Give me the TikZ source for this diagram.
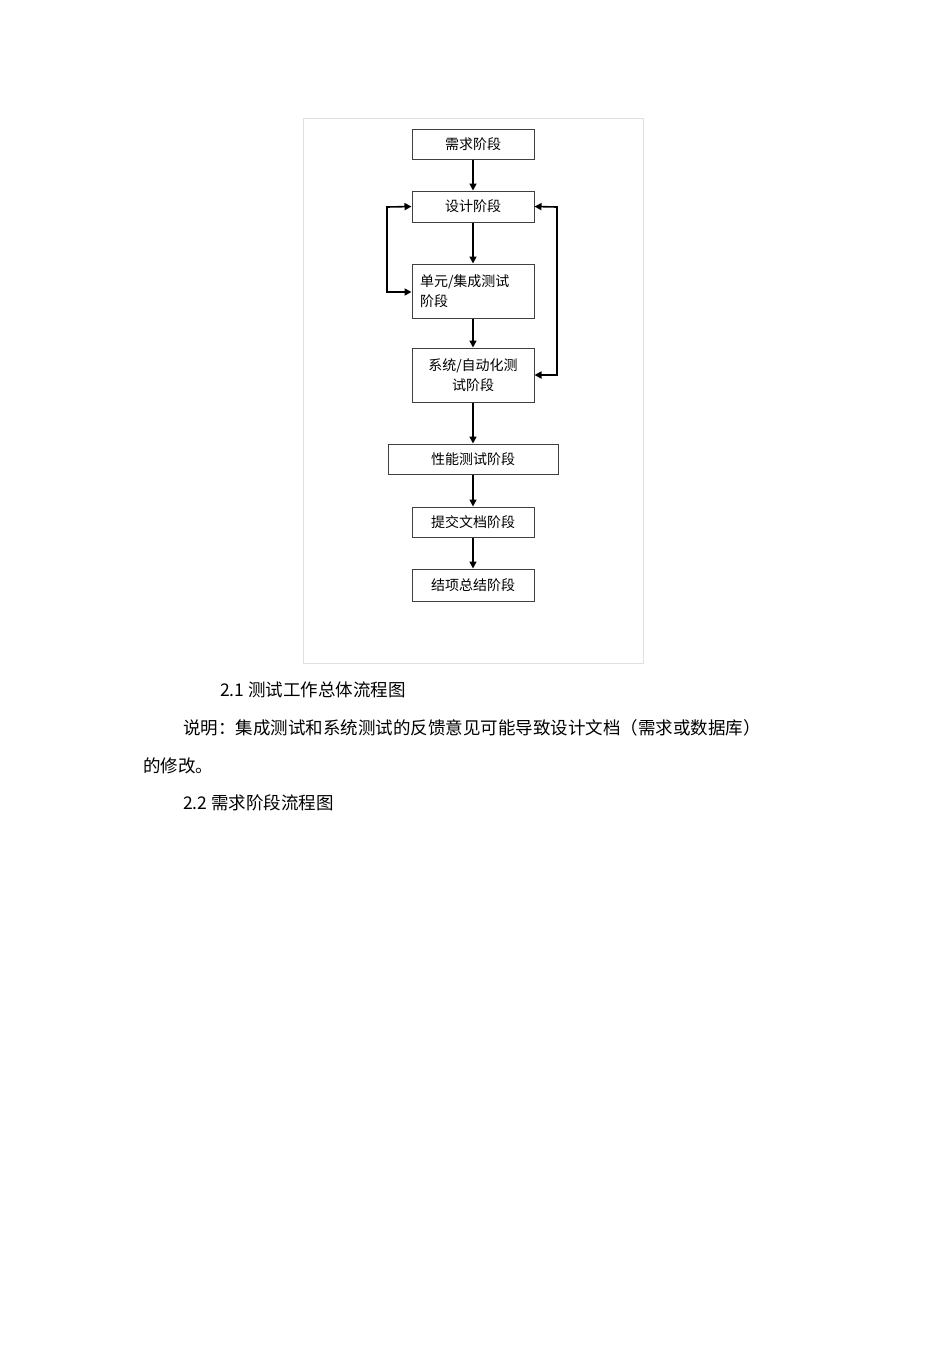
\documentclass[tikz,border=0pt]{standalone}
\usepackage{fontspec}
\setmainfont{Liberation Sans}
\newfontfamily\cjk{Noto Sans CJK SC}
\usetikzlibrary{arrows.meta}
\begin{document}
\begin{tikzpicture}[x=1pt,y=-1pt,
  box/.style={draw=black!75,line width=1pt,inner sep=0pt,font=\cjk\fontsize{14}{20}\selectfont},
  arr/.style={line width=1.6pt,-{Triangle[length=7pt,width=7pt]}},
  txt/.style={anchor=west,inner sep=0pt,font=\cjk\fontsize{17.5}{20}\selectfont}]
\useasboundingbox[fill=white] (0,0) rectangle (950,1345);
\draw[black!12,line width=0.8pt] (303,118) rectangle (643,663);
\node[box,minimum width=122pt,minimum height=30pt] (a) at (473,144) {需求阶段};
\node[box,minimum width=122pt,minimum height=31pt] (b) at (473,206.5) {设计阶段};
\node[box,minimum width=122pt,minimum height=54pt,align=left,text width=106pt] (c) at (473,291) {单元/集成测试\\阶段};
\node[box,minimum width=122pt,minimum height=54pt,align=center] (d) at (473,375) {系统/自动化测\\试阶段};
\node[box,minimum width=170pt,minimum height=30pt] (e) at (473,459) {性能测试阶段};
\node[box,minimum width=122pt,minimum height=30pt] (f) at (473,522) {提交文档阶段};
\node[box,minimum width=122pt,minimum height=32pt] (g) at (473,585) {结项总结阶段};
\draw[arr] (a) -- (b);
\draw[arr] (b) -- (c);
\draw[arr] (c) -- (d);
\draw[arr] (d) -- (e);
\draw[arr] (e) -- (f);
\draw[arr] (f) -- (g);
\coordinate (l1) at (387,207); \coordinate (l2) at (387,292);
\coordinate (r1) at (557,207); \coordinate (r2) at (557,375);
\draw[line width=1.6pt,{Triangle[length=7pt,width=7pt]}-{Triangle[length=7pt,width=7pt]}] (b.west) -- (l1) -- (l2) -- (c.west |- l2);
\draw[line width=1.6pt,{Triangle[length=7pt,width=7pt]}-{Triangle[length=7pt,width=7pt]}] (b.east) -- (r1) -- (r2) -- (d.east |- r2);
\node[txt] (t1) at (220,690) {2.1 测试工作总体流程图};
\node[txt] (t2) at (183,728) {说明：集成测试和系统测试的反馈意见可能导致设计文档（需求或数据库）};
\node[txt] (t3) at (143,766) {的修改。};
\node[txt] (t4) at (183,803) {2.2 需求阶段流程图};
\end{tikzpicture}
\end{document}
